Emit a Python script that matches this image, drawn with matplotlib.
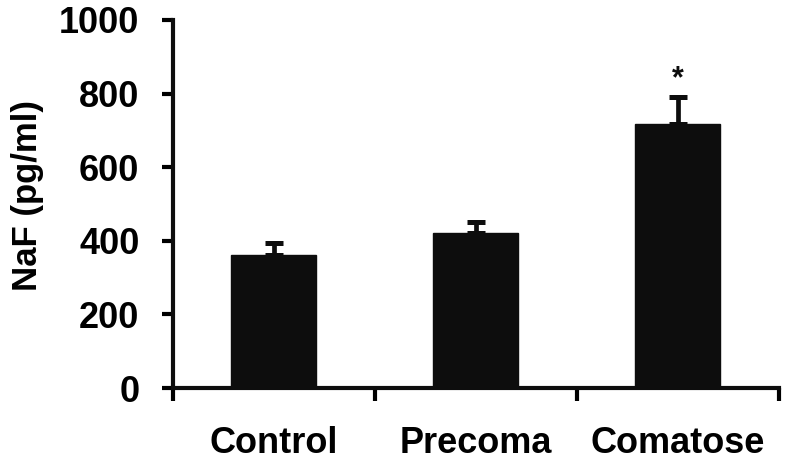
import matplotlib
matplotlib.use("Agg")
import matplotlib.pyplot as plt
import numpy as np

categories = ["Control", "Precoma", "Comatose"]
values = [362, 421, 716]
errors = [32, 29, 74]
sig_marks = ["", "", "*"]
yticks = [0, 200, 400, 600, 800, 1000]
ylabel = "NaF (pg/ml)"

plt.rcParams['font.family'] = ['Liberation Sans', 'DejaVu Sans']
plt.rcParams['font.weight'] = 'bold'

fig = plt.figure(figsize=(7.89, 4.62), dpi=100)
ax_w = 0.768
ax = fig.add_axes([0.219, 0.160, ax_w, 0.797])

x = np.arange(len(categories))
ax.bar(x, values, width=0.42, color="#0d0d0d", edgecolor="#0d0d0d", zorder=2)
ax.errorbar(x, values, yerr=[np.zeros(len(errors)), errors], fmt="none",
            ecolor="#0d0d0d", elinewidth=3.4, capsize=6.5, capthick=3.6, zorder=3)
for xi, v, e, s in zip(x, values, errors, sig_marks):
    if s:
        ax.text(xi, v + e + 50, s, ha="center", va="center", fontsize=22,
                fontweight="bold", color="#0d0d0d")

ax.set_xlim(-0.5, 2.5)
ax.set_ylim(0, 1000)
ax.set_yticks(yticks)
ax.set_yticklabels([str(t) for t in yticks], fontsize=26, fontweight="bold")
ax.set_xticks([-0.5, 0.5, 1.5, 2.5])
ax.set_xticklabels([])
ax.set_xticks(x, minor=True)
ax.set_xticklabels(categories, minor=True, fontsize=26, fontweight="bold")
ax.tick_params(axis="x", which="minor", length=0, pad=27)
ax.tick_params(axis="x", which="major", length=9, width=3, direction="out")
ax.tick_params(axis="y", length=8, width=3, direction="out", pad=16)

for side in ["top", "right"]:
    ax.spines[side].set_visible(False)
for side in ["left", "bottom"]:
    ax.spines[side].set_linewidth(3)
    ax.spines[side].set_color("#0d0d0d")

ax.set_ylabel(ylabel, fontsize=25, fontweight="bold", va="center")
# label centre at about x = 28 px in the figure
ax.yaxis.set_label_coords((28 - 173) / (ax_w * 789), 0.524)

fig.savefig("out.png", dpi=100)
